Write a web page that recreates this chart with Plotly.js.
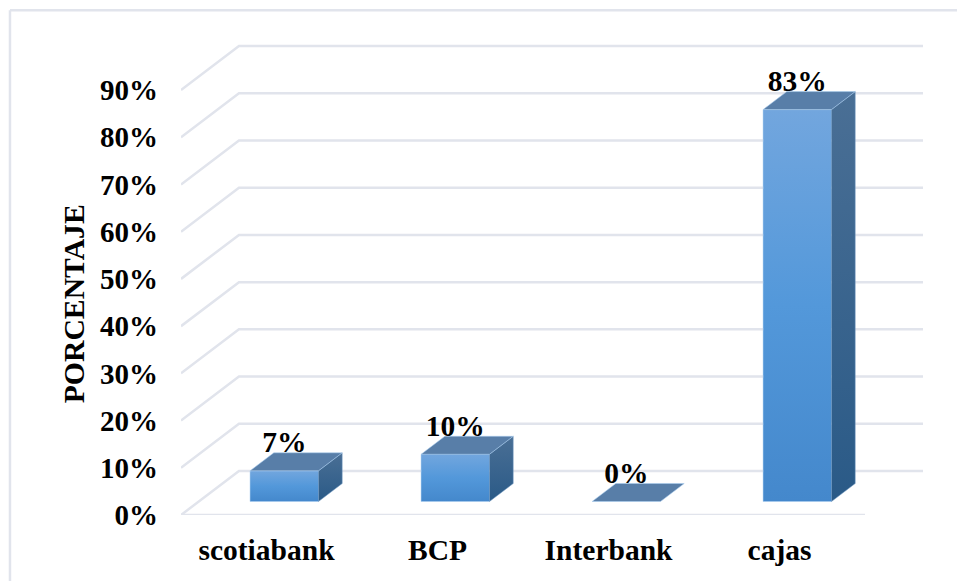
<!DOCTYPE html>
<html><head><meta charset="utf-8">
<script src="https://cdn.plot.ly/plotly-3.0.1.min.js"></script>
<style>html,body{margin:0;padding:0;background:#fff}#c{width:957px;height:581px}</style>
</head><body><div id="c"></div>
<script>
var categories = ["scotiabank", "BCP", "Interbank", "cajas"];
var heights = [6.5, 10, 0, 83];
var valueLabels = ["7%", "10%", "0%", "83%"];
var yTicks = [0, 10, 20, 30, 40, 50, 60, 70, 80, 90];
var yTickLabels = ["0%", "10%", "20%", "30%", "40%", "50%", "60%", "70%", "80%", "90%"];

// oblique projection of the depth axis into the 2D axes (depth 0 = front, 1 = back wall)
var depthX = 0.339, depthY = 9.32;
function px(x, z) { return x + z * depthX; }
function py(v, z) { return v + z * depthY; }
var xMin = -0.5, xMax = 3.5;
var barHalf = 0.2, zFront = 0.307, zBack = 0.716, labelLift = 5.45;

var traces = [];

// grid: side wall + back wall + floor
var gx = [], gy = [];
yTicks.forEach(function (v) {
  gx.push(px(xMin, 0), px(xMin, 1), px(xMax, 1), null);
  gy.push(py(v, 0), py(v, 1), py(v, 1), null);
});
gx.push(px(xMin, 0), px(xMax, 0));
gy.push(0, 0);
traces.push({ type: "scatter", mode: "lines", x: gx, y: gy, hoverinfo: "skip", showlegend: false,
  line: { color: "#e1e4ec", width: 2.5 } });

var edge = { color: "rgba(170,205,240,0.55)", width: 1 };

// front faces as bars
traces.push({ type: "bar", x: categories.map(function (c, i) { return px(i, zFront); }),
  y: heights, base: categories.map(function () { return py(0, zFront); }),
  width: barHalf * 2, showlegend: false, hoverinfo: "skip",
  marker: { color: "#5a97d6", line: { width: 0 } } });

categories.forEach(function (c, i) {
  var v = heights[i];
  var l = i - barHalf, r = i + barHalf;
  // front gradient
  if (v > 0) traces.push({ type: "scatter", mode: "lines", showlegend: false, hoverinfo: "skip",
    x: [px(l, zFront), px(r, zFront), px(r, zFront), px(l, zFront), px(l, zFront)],
    y: [py(0, zFront), py(0, zFront), py(v, zFront), py(v, zFront), py(0, zFront)],
    fill: "toself", line: edge,
    fillgradient: { type: "vertical", colorscale: [[0, "#4488cc"], [0.5, "#5398da"], [1, "#72a6de"]] } });
  // right side
  if (v > 0) traces.push({ type: "scatter", mode: "lines", showlegend: false, hoverinfo: "skip",
    x: [px(r, zFront), px(r, zBack), px(r, zBack), px(r, zFront), px(r, zFront)],
    y: [py(0, zFront), py(0, zBack), py(v, zBack), py(v, zFront), py(0, zFront)],
    fill: "toself", line: { color: "rgba(120,160,200,0.5)", width: 1 },
    fillgradient: { type: "vertical", colorscale: [[0, "#2a5a87"], [1, "#4a6f95"]] } });
  // top
  traces.push({ type: "scatter", mode: "lines", showlegend: false, hoverinfo: "skip",
    x: [px(l, zFront), px(r, zFront), px(r, zBack), px(l, zBack), px(l, zFront)],
    y: [py(v, zFront), py(v, zFront), py(v, zBack), py(v, zBack), py(v, zFront)],
    fill: "toself", fillcolor: "#587ea8", line: edge });
});

var font = { family: "Liberation Serif", size: 29.5, color: "#000", weight: 700 };

// value labels
traces.push({ type: "scatter", mode: "text", showlegend: false, hoverinfo: "skip",
  x: categories.map(function (c, i) { return px(i, zFront); }),
  y: heights.map(function (v) { return py(v, zFront) + labelLift; }),
  text: valueLabels, textposition: "middle center", cliponaxis: false, textfont: font });

var layout = {
  width: 957, height: 581, autosize: false, showlegend: false, bargap: 0,
  paper_bgcolor: "#fff", plot_bgcolor: "#fff",
  margin: { l: 181, r: 34, t: 40, b: 66, pad: 0 },
  font: font,
  xaxis: { range: [xMin, xMax + depthX], tickvals: [0, 1, 2, 3], ticktext: categories,
    showgrid: false, zeroline: false, showline: false, ticks: "", tickfont: font, ticklabelstandoff: 14 },
  yaxis: { range: [0, 100.6], tickvals: yTicks, ticktext: yTickLabels,
    showgrid: false, zeroline: false, showline: false, ticks: "", tickfont: { family: "Liberation Serif", size: 29, color: "#000", weight: 700 }, ticklabelstandoff: 22 },
  annotations: [{ text: "PORCENTAJE", textangle: -90, xref: "paper", yref: "paper",
    x: -0.145, y: 0.4445, xanchor: "center", yanchor: "middle", showarrow: false,
    font: { family: "Liberation Serif", size: 29.7, color: "#000", weight: 700 } }],
  shapes: [
    { type: "line", xref: "paper", yref: "paper", x0: -0.2305, x1: 1.05, y0: 1.0625, y1: 1.0625, line: { color: "#e1e4ec", width: 2.5 } },
    { type: "line", xref: "paper", yref: "paper", x0: -0.2305, x1: -0.2305, y0: -0.14, y1: 1.0625, line: { color: "#e1e4ec", width: 2.5 } }
  ]
};
Plotly.newPlot("c", traces, layout, { displayModeBar: false, staticPlot: true });
</script></body></html>
